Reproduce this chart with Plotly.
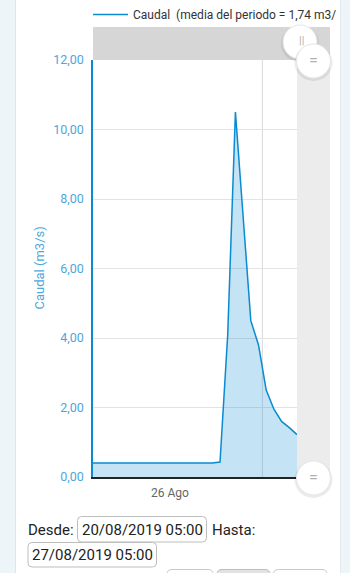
import plotly.graph_objects as go

# ---------------- data ----------------
times = [
    "2019-08-25 13:30", "2019-08-25 14:30", "2019-08-25 15:30", "2019-08-25 16:30",
    "2019-08-25 17:30", "2019-08-25 18:30", "2019-08-25 19:30", "2019-08-25 20:30",
    "2019-08-25 21:30", "2019-08-25 22:30", "2019-08-25 23:30", "2019-08-26 00:30",
    "2019-08-26 01:30", "2019-08-26 02:30", "2019-08-26 03:30", "2019-08-26 04:30",
    "2019-08-26 05:30", "2019-08-26 06:30", "2019-08-26 07:30", "2019-08-26 08:30",
    "2019-08-26 09:30", "2019-08-26 10:30", "2019-08-26 11:30", "2019-08-26 12:30",
    "2019-08-26 13:30", "2019-08-26 14:30", "2019-08-26 15:30", "2019-08-26 16:30",
]
caudal = [
    0.40, 0.40, 0.40, 0.41,
    0.41, 0.42, 0.41, 0.40,
    0.40, 0.40, 0.40, 0.40,
    0.40, 0.40, 0.41, 0.41,
    0.40, 0.43, 4.10, 10.50,
    7.50, 4.50, 3.80, 2.50,
    1.95, 1.60, 1.42, 1.22,
]
x_range = ["2019-08-25 14:00", "2019-08-26 16:30"]
y_ticks = [0, 2, 4, 6, 8, 10, 12]
x_tick_vals = ["2019-08-26 00:00"]
x_tick_text = ["26 Ago"]
grid_line_time = "2019-08-26 12:00"
series_name = "Caudal\u00a0\u00a0(media del periodo = 1,74 m3/"
y_title = "Caudal (m3/s)"
desde = "20/08/2019 05:00"
hasta = "27/08/2019 05:00"

# ---------------- geometry helpers ----------------
W, H = 350, 573
L, R, T, B = 93, 297, 60, 477


def px(x):
    return (x - L) / (R - L)


def py(y):
    return (B - y) / (B - T)


def rrect(x0, y0, x1, y1, r=4):
    X0, X1 = px(x0), px(x1)
    Y0, Y1 = py(y0), py(y1)
    rx = r / (R - L)
    ry = r / (B - T)
    return (f"M {X0+rx} {Y0} L {X1-rx} {Y0} Q {X1} {Y0} {X1} {Y0-ry} "
            f"L {X1} {Y1+ry} Q {X1} {Y1} {X1-rx} {Y1} L {X0+rx} {Y1} "
            f"Q {X0} {Y1} {X0} {Y1+ry} L {X0} {Y0-ry} Q {X0} {Y0} {X0+rx} {Y0} Z")


BLUE = "#0a8ad0"
FONT = "Roboto"

fig = go.Figure()
fig.add_trace(go.Scatter(
    x=times, y=caudal, mode="lines", name=series_name,
    line=dict(color=BLUE, width=1.5),
    fill="tozeroy", fillcolor="rgba(2,136,209,0.23)",
    showlegend=False, hoverinfo="skip",
))

shapes = []
# page side strips
shapes.append(dict(type="rect", xref="paper", yref="paper", x0=px(0), x1=px(15.5),
                   y0=py(H), y1=py(0), fillcolor="#eef5f8", line_width=0, layer="below"))
shapes.append(dict(type="line", xref="paper", yref="paper", x0=px(15.5), x1=px(15.5),
                   y0=py(H), y1=py(0), line=dict(color="#dfe6ea", width=1)))
shapes.append(dict(type="rect", xref="paper", yref="paper", x0=px(340), x1=px(W),
                   y0=py(H), y1=py(0), fillcolor="#eef5f8", line_width=0, layer="below"))
shapes.append(dict(type="line", xref="paper", yref="paper", x0=px(340.5), x1=px(340.5),
                   y0=py(H), y1=py(0), line=dict(color="#e3e9ec", width=1)))
# navigator bands
shapes.append(dict(type="rect", xref="paper", yref="paper", x0=px(L), x1=px(330),
                   y0=py(T), y1=py(27), fillcolor="#d6d6d6", line_width=0))
shapes.append(dict(type="rect", xref="paper", yref="paper", x0=px(R), x1=px(330),
                   y0=py(B), y1=py(T), fillcolor="#ececec", line_width=0))
# vertical grid line
shapes.append(dict(type="line", xref="x", yref="paper", x0=grid_line_time, x1=grid_line_time,
                   y0=0, y1=1, line=dict(color="#d9d9d9", width=1), layer="below"))
# legend sample line
shapes.append(dict(type="line", xref="paper", yref="paper", x0=px(93), x1=px(128),
                   y0=py(14.5), y1=py(14.5), line=dict(color=BLUE, width=1.5)))


def handle(cx, cy, r):
    out = []
    out.append(dict(type="circle", xref="paper", yref="paper",
                    x0=px(cx - r - 2), x1=px(cx + r + 2),
                    y0=py(cy + r + 3), y1=py(cy - r + 0.5),
                    fillcolor="rgba(0,0,0,0.08)", line_width=0))
    out.append(dict(type="circle", xref="paper", yref="paper",
                    x0=px(cx - r), x1=px(cx + r), y0=py(cy + r), y1=py(cy - r),
                    fillcolor="white", line=dict(color="#e6e6e6", width=1)))
    return out


shapes += handle(300, 42, 17)
shapes += handle(313.5, 61, 17)
shapes += handle(313.5, 478, 17)

# input boxes
shapes.append(dict(type="path", xref="paper", yref="paper", path=rrect(77.5, 516.5, 206.5, 542),
                   line=dict(color="#bdbdbd", width=1), fillcolor="white"))
shapes.append(dict(type="path", xref="paper", yref="paper", path=rrect(28, 542.5, 156.5, 567),
                   line=dict(color="#bdbdbd", width=1), fillcolor="white"))
# bottom buttons (partly visible)
shapes.append(dict(type="path", xref="paper", yref="paper", path=rrect(167, 569.5, 213, 590, 5),
                   line=dict(color="#c8c8c8", width=1), fillcolor="white"))
shapes.append(dict(type="path", xref="paper", yref="paper", path=rrect(217, 569.5, 270, 590, 5),
                   line=dict(color="#bdbdbd", width=1), fillcolor="#e3e3e3"))
shapes.append(dict(type="path", xref="paper", yref="paper", path=rrect(273.5, 569.5, 327, 590, 5),
                   line=dict(color="#c8c8c8", width=1), fillcolor="white"))

annotations = [
    dict(xref="paper", yref="paper", x=px(130.5), y=py(14.5), xanchor="left", yanchor="middle",
         text=series_name, showarrow=False, font=dict(family=FONT, size=12, color="#333333")),
    dict(xref="paper", yref="paper", x=px(39), y=0.5, xanchor="center", yanchor="middle",
         text=y_title, textangle=-90, showarrow=False,
         font=dict(family=FONT, size=13, color="#4ea6dc")),
    dict(xref="paper", yref="paper", x=px(301.5), y=py(40), xanchor="center", yanchor="middle",
         text="||", showarrow=False, font=dict(family=FONT, size=11, color="#b0b0b0")),
    dict(xref="paper", yref="paper", x=px(313.5), y=py(60), xanchor="center", yanchor="middle",
         text="=", showarrow=False, font=dict(family=FONT, size=16, color="#b0b0b0")),
    dict(xref="paper", yref="paper", x=px(313.5), y=py(477), xanchor="center", yanchor="middle",
         text="=", showarrow=False, font=dict(family=FONT, size=16, color="#b0b0b0")),
    dict(xref="paper", yref="paper", x=px(25.5), y=py(529.5), xanchor="left", yanchor="middle",
         text="Desde:", showarrow=False, font=dict(family=FONT, size=15, color="#222222")),
    dict(xref="paper", yref="paper", x=px(142), y=py(529.5), xanchor="center", yanchor="middle",
         text=desde, showarrow=False, font=dict(family=FONT, size=15, color="#222222")),
    dict(xref="paper", yref="paper", x=px(209.5), y=py(529.5), xanchor="left", yanchor="middle",
         text="Hasta:", showarrow=False, font=dict(family=FONT, size=15, color="#222222")),
    dict(xref="paper", yref="paper", x=px(92.3), y=py(554.5), xanchor="center", yanchor="middle",
         text=hasta, showarrow=False, font=dict(family=FONT, size=15, color="#222222")),
]

fig.update_layout(
    width=W, height=H,
    margin=dict(l=L, r=W - R, t=T, b=H - B, pad=0),
    paper_bgcolor="white", plot_bgcolor="white",
    separators=",.",
    font=dict(family=FONT),
    shapes=shapes, annotations=annotations,
    showlegend=False,
    xaxis=dict(type="date", range=x_range, showgrid=False, zeroline=False,
               showline=True, linecolor="#222222", linewidth=1.5,
               tickvals=x_tick_vals, ticktext=x_tick_text, ticks="",
               ticklabelstandoff=4,
               tickfont=dict(family=FONT, size=12, color="#666666"), fixedrange=True),
    yaxis=dict(range=[0, 12], tickvals=y_ticks, tickformat=".2f", showgrid=True,
               gridcolor="#e3e3e3", gridwidth=1, zeroline=False,
               showline=True, linecolor=BLUE, linewidth=1.5, ticks="",
               ticklabelstandoff=5,
               tickfont=dict(family=FONT, size=12.5, color="#4ea6dc"), fixedrange=True),
)

fig.write_html("out.html")
